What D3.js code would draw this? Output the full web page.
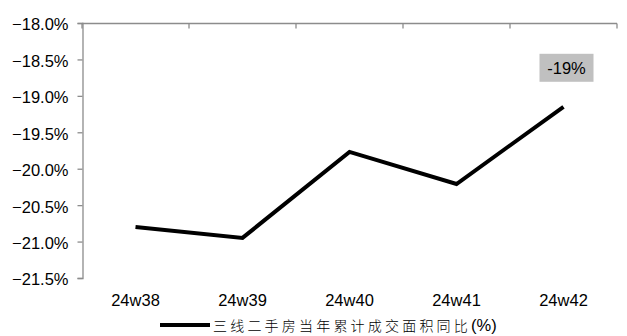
<!DOCTYPE html>
<html>
<head>
<meta charset="utf-8">
<script src="https://cdn.jsdelivr.net/npm/d3@7"></script>
<style>
  html, body { margin: 0; padding: 0; background: #fff; }
  svg { display: block; }
</style>
</head>
<body>
<svg id="chart" width="627" height="336"></svg>
<script>
// Weekly categories and cumulative YoY change of tier-3 second-hand housing area (%)
const weeks = ["24w38", "24w39", "24w40", "24w41", "24w42"];
const yoyValues = [-20.80, -20.95, -19.77, -20.21, -19.15];
const yTicks = [-18.0, -18.5, -19.0, -19.5, -20.0, -20.5, -21.0, -21.5];
const seriesName = "三线二手房当年累计成交面积同比";
const seriesUnit = "(%)";

const svg = d3.select("#chart");
const plotLeft = 82, plotRight = 617, plotTop = 23, plotBottom = 278;
const axisColor = "#8c8c8c";
const latin = "'Liberation Sans', Arial, sans-serif";
const fontSize = "16.5px";

const x = d3.scaleBand().domain(weeks).range([plotLeft, plotRight]);
const y = d3.scaleLinear().domain([-18, -21.5]).range([plotTop, plotBottom]);

// Value axis on the left
const yAxis = d3.axisLeft(y)
  .tickValues(yTicks)
  .tickSize(5)
  .tickPadding(9)
  .tickFormat(d => d3.format(".1f")(d) + "%");
const gy = svg.append("g").attr("transform", `translate(${plotLeft + 0.5},0)`).call(yAxis);
gy.select(".domain").attr("stroke", axisColor).attr("stroke-width", 1.3);
gy.selectAll(".tick line").attr("stroke", axisColor).attr("stroke-width", 1.3);
gy.selectAll(".tick text")
  .attr("fill", "#000")
  .attr("dy", "0.42em")
  .style("font-family", latin)
  .style("font-size", fontSize);

// Category axis crosses at the top; labels sit below the plot
const gx = svg.append("g").attr("transform", `translate(0,${plotTop + 0.5})`);
gx.append("line")
  .attr("x1", plotLeft).attr("x2", plotRight)
  .attr("stroke", axisColor).attr("stroke-width", 1.3);
const boundaries = weeks.map(w => x(w)).concat([x(weeks[weeks.length - 1]) + x.bandwidth()]);
gx.selectAll("line.tick")
  .data(boundaries)
  .join("line")
  .attr("class", "tick")
  .attr("x1", d => d).attr("x2", d => d)
  .attr("y1", 0).attr("y2", 5)
  .attr("stroke", axisColor).attr("stroke-width", 1.3);

svg.append("g").selectAll("text")
  .data(weeks)
  .join("text")
  .attr("x", d => x(d) + x.bandwidth() / 2)
  .attr("y", 306)
  .attr("text-anchor", "middle")
  .style("font-family", latin)
  .style("font-size", fontSize)
  .text(d => d);

// Series line
const line = d3.line()
  .x((d, i) => x(weeks[i]) + x.bandwidth() / 2)
  .y(d => y(d));
svg.append("path")
  .datum(yoyValues)
  .attr("d", line)
  .attr("fill", "none")
  .attr("stroke", "#000")
  .attr("stroke-width", 4)
  .attr("stroke-linejoin", "miter");

// Label on the latest point
const lastIdx = yoyValues.length - 1;
const lx = x(weeks[lastIdx]) + x.bandwidth() / 2 + 3;
const ly = y(yoyValues[lastIdx]) - 39;
const lbl = svg.append("g");
lbl.append("rect")
  .attr("x", lx - 27).attr("y", ly - 14)
  .attr("width", 54).attr("height", 28)
  .attr("fill", "#c0c0c0");
lbl.append("text")
  .attr("x", lx).attr("y", ly + 6)
  .attr("text-anchor", "middle")
  .style("font-family", latin)
  .style("font-size", fontSize)
  .text(Math.round(yoyValues[lastIdx]) + "%");

// Legend
const legY = 325;
svg.append("line")
  .attr("x1", 160).attr("x2", 210)
  .attr("y1", legY).attr("y2", legY)
  .attr("stroke", "#000").attr("stroke-width", 4);
const legText = svg.append("text")
  .attr("x", 213).attr("y", legY + 6);
legText.append("tspan")
  .style("font-family", "'Noto Sans CJK SC', sans-serif")
  .style("font-weight", 300)
  .style("font-size", "14px")
  .style("letter-spacing", "3.2px")
  .text(seriesName);
legText.append("tspan")
  .style("font-family", latin)
  .style("font-size", fontSize)
  .text(seriesUnit);
</script>
</body>
</html>
